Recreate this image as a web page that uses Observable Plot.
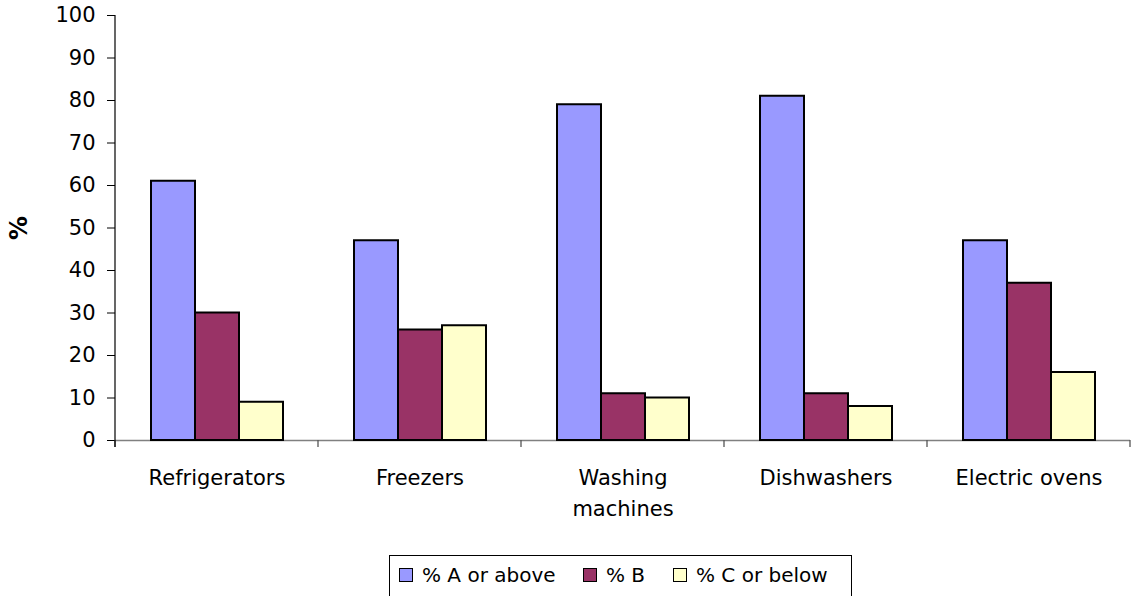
<!DOCTYPE html>
<html><head><meta charset="utf-8">
<script src="https://cdn.jsdelivr.net/npm/d3@7"></script>
<script src="https://cdn.jsdelivr.net/npm/@observablehq/plot@0.6"></script>
<style>
body{margin:0;background:#fff;font-family:"DejaVu Sans",sans-serif;}
#wrap{position:relative;width:1132px;height:596px;overflow:hidden;background:#fff;}
#legend{position:absolute;left:389px;top:555px;width:463px;height:60px;border:1px solid #000;box-sizing:border-box;font-size:20px;color:#000;}
.item{position:absolute;top:7px;display:flex;align-items:center;white-space:nowrap;}
.sw{width:12px;height:12px;border:1px solid #000;margin-right:9px;}
</style></head>
<body><div id="wrap"><div id="chart"></div><div id="legend"></div></div>
<script>
const categories = ["Refrigerators", "Freezers", "Washing machines", "Dishwashers", "Electric ovens"];
const series = ["% A or above", "% B", "% C or below"];
const aOrAbove = [61, 47, 79, 81, 47];
const gradeB = [30, 26, 11, 11, 37];
const cOrBelow = [9, 27, 10, 8, 16];
const yTicks = [0, 10, 20, 30, 40, 50, 60, 70, 80, 90, 100];
const colors = ["#9999FF", "#993366", "#FFFFCC"];
const seriesValues = [aOrAbove, gradeB, cOrBelow];

const data = categories.flatMap((c, i) => series.map((s, j) => ({category: c, series: s, value: seriesValues[j][i]})));

const plot = Plot.plot({
  width: 1132, height: 545,
  marginTop: 15, marginBottom: 105, marginLeft: 115, marginRight: 2,
  style: {fontFamily: "DejaVu Sans", fontSize: "21px", color: "#000", background: "#fff"},
  fx: {domain: categories, padding: 0, axis: null},
  x: {domain: series, paddingInner: 0, paddingOuter: 0.7556, axis: null},
  y: {domain: [0, 100], axis: null},
  color: {domain: series, range: colors},
  marks: [
    Plot.ruleY([0], {stroke: "#808080", strokeWidth: 1.3}),
    Plot.barY(data, {fx: "category", x: "series", y: "value", fill: "series", stroke: "#000", strokeWidth: 2}),
    Plot.axisY({ticks: yTicks, tickSize: 8, tickPadding: 12, fontSize: 21, label: null, stroke: "#000"}),
    Plot.axisY({ticks: [], label: "%", labelArrow: "none", labelAnchor: "center", labelOffset: 106, fontSize: 24, fontWeight: "bold"}),
    Plot.axisFx({anchor: "bottom", tickSize: 0, tickPadding: 23, lineWidth: 7, lineHeight: 1.45, fontSize: 21, label: null})
  ]
});
document.getElementById("chart").appendChild(plot);

// category boundary ticks and y axis line, placed with Plot's own scales
const fxs = plot.scale("fx"), ys = plot.scale("y");
const bounds = categories.map(c => fxs.apply(c)).concat([fxs.apply(categories[categories.length - 1]) + fxs.bandwidth]);
const svg = d3.select(plot);
const g = svg.append("g");
g.selectAll("line.b").data(bounds).join("line").attr("class", "b")
  .attr("x1", d => d).attr("x2", d => d)
  .attr("y1", ys.apply(0)).attr("y2", ys.apply(0) + 7)
  .attr("stroke", "#555").attr("stroke-width", 1.3);
g.append("line").attr("x1", bounds[0]).attr("x2", bounds[0])
  .attr("y1", ys.apply(100)).attr("y2", ys.apply(0) + 7)
  .attr("stroke", "#000").attr("stroke-width", 1.2);

// legend
const lefts = [9, 193, 283];
const legend = document.getElementById("legend");
series.forEach((s, j) => {
  const it = document.createElement("div");
  it.className = "item";
  it.style.left = lefts[j] + "px";
  const sw = document.createElement("span");
  sw.className = "sw";
  sw.style.background = colors[j];
  const tx = document.createElement("span");
  tx.textContent = s;
  it.appendChild(sw); it.appendChild(tx);
  legend.appendChild(it);
});
</script>
</body></html>
